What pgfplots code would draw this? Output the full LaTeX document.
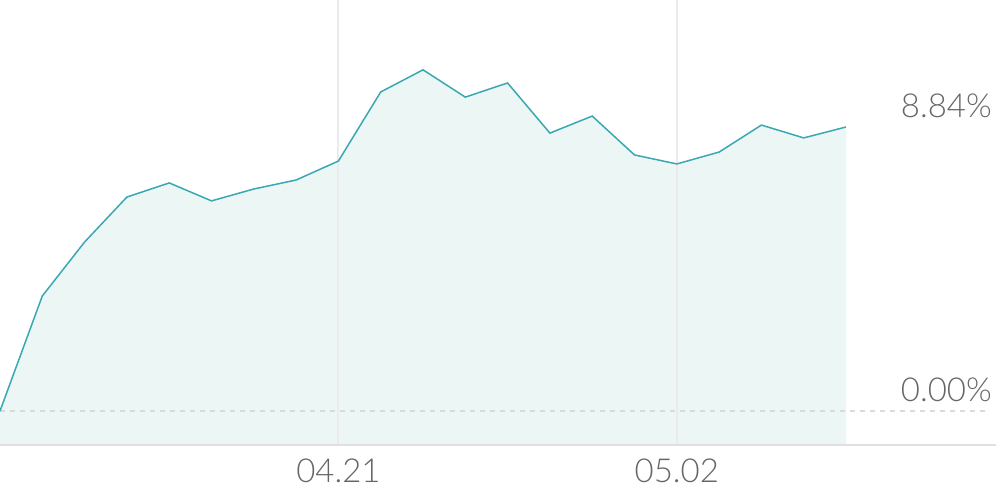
\documentclass[border=0pt]{standalone}
\usepackage{pgfplots}
\pgfplotsset{compat=1.18}
\usepackage{fontspec}
\setmainfont{Lato Light}
\definecolor{linec}{HTML}{3AA8B3}
\definecolor{fillc}{HTML}{ECF6F5}
\definecolor{gridc}{HTML}{EBEBEB}
\definecolor{basec}{HTML}{E0E0E0}
\definecolor{dashc}{HTML}{DADADA}
\definecolor{textc}{HTML}{666666}
\begin{document}
\begin{tikzpicture}
\begin{axis}[
  scale only axis,
  width=996pt, height=445pt,
  xmin=0, xmax=23.546,
  ymin=-1.0583, ymax=12.793,
  axis line style={draw=none},
  ytick=\empty,
  xtick={8,16},
  xticklabels={04.21,05.02},
  major tick length=0pt,
  xticklabel style={anchor=base, yshift=-37pt, font=\fontsize{33}{37}\selectfont, text=textc},
  clip=false,
]
\addplot[fill=fillc, draw=none] coordinates {
(0,-1.0583) (0,0) (1,3.58) (2,5.26) (3,6.66) (4,7.10) (5,6.54) (6,6.91) (7,7.19) (8,7.78)
(9,9.93) (10,10.62) (11,9.77) (12,10.21) (13,8.65) (14,9.18) (15,7.97) (16,7.69)
(17,8.06) (18,8.90) (19,8.50) (20,8.84) (20,-1.0583)};
\addplot[gridc, line width=2pt] coordinates {(8,-1.0583) (8,12.793)};
\addplot[gridc, line width=2pt] coordinates {(16,-1.0583) (16,12.793)};
\addplot[dashc, line width=1.2pt, dash pattern=on 5pt off 5pt] coordinates {(0,0) (23.4,0)};
\addplot[linec, line width=1.5pt] coordinates {
(0,0) (1,3.58) (2,5.26) (3,6.66) (4,7.10) (5,6.54) (6,6.91) (7,7.19) (8,7.78)
(9,9.93) (10,10.62) (11,9.77) (12,10.21) (13,8.65) (14,9.18) (15,7.97) (16,7.69)
(17,8.06) (18,8.90) (19,8.50) (20,8.84)};
\draw[basec, line width=2.5pt] (rel axis cs:0,0) -- (rel axis cs:1,0);
\node[anchor=base east, inner sep=0pt, text=textc, font=\fontsize{33}{37}\selectfont] at (axis cs:23.45,9.15) {8.84\%};
\node[anchor=base east, inner sep=0pt, text=textc, font=\fontsize{33}{37}\selectfont] at (axis cs:23.45,0.311) {0.00\%};
\end{axis}
\pgfresetboundingbox
\path[use as bounding box] (0pt,-45pt) rectangle (996pt,445pt);
\end{tikzpicture}
\end{document}
